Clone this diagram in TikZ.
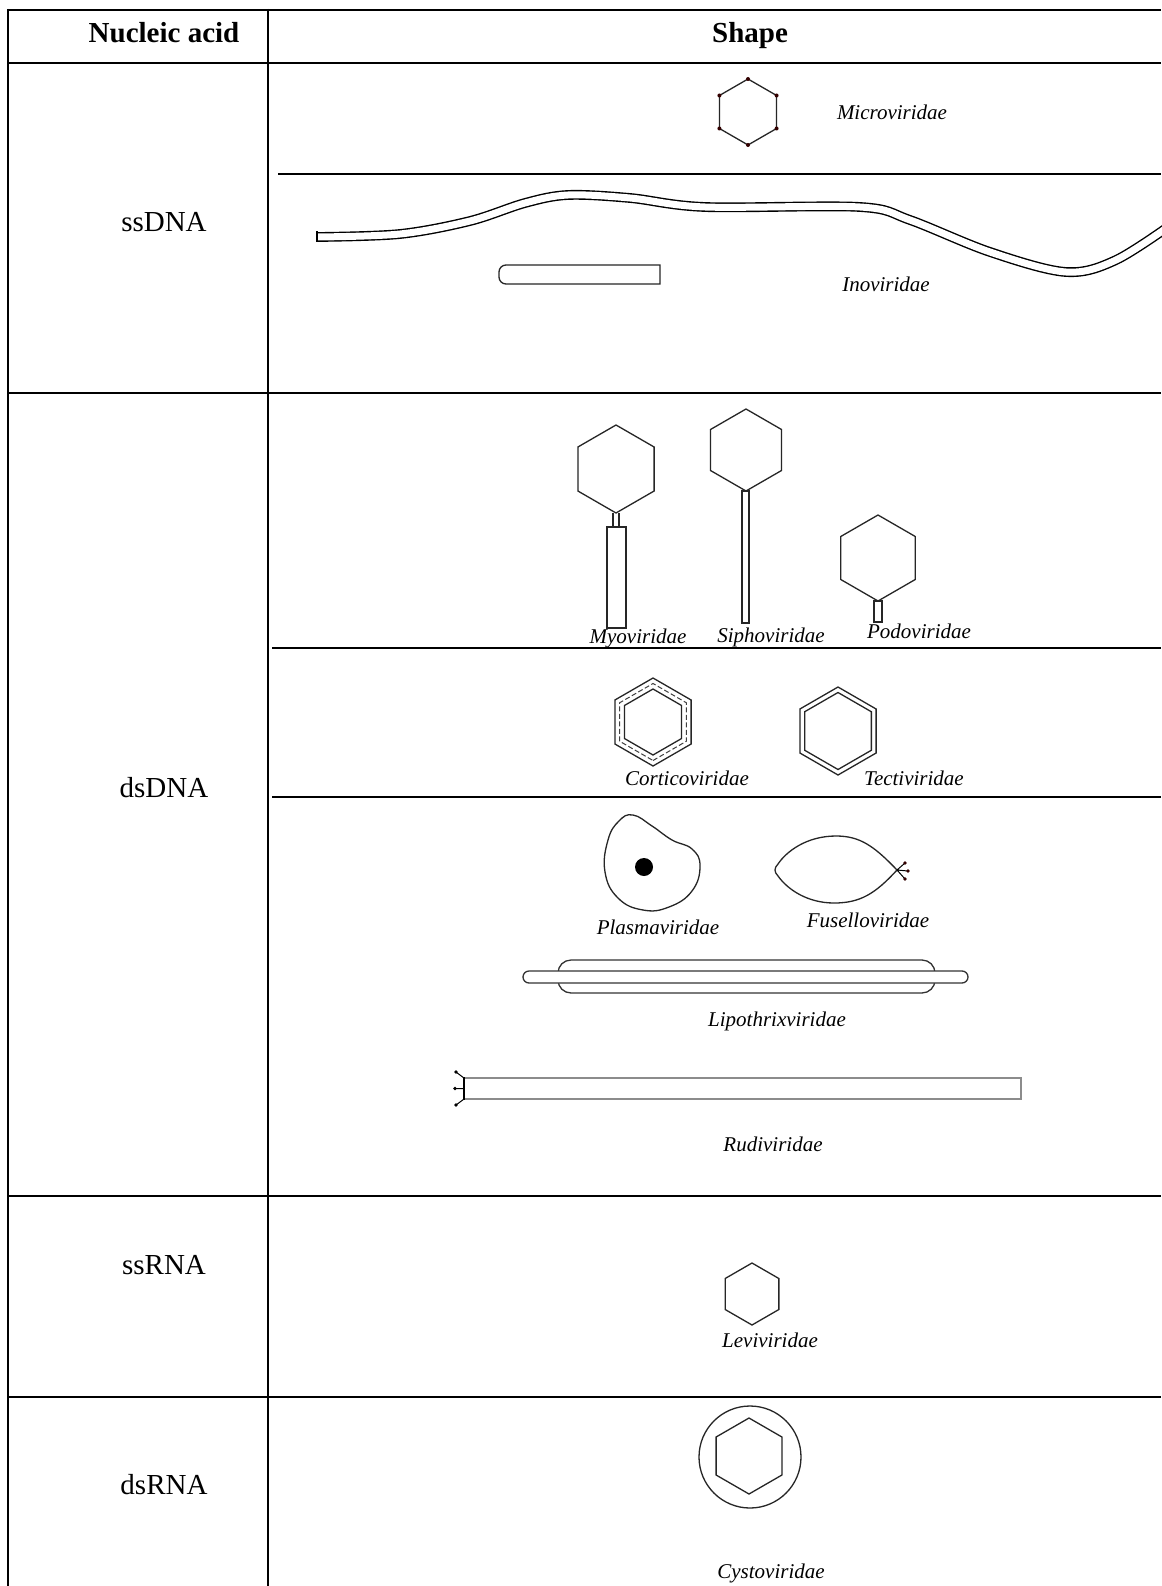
\documentclass[tikz,border=0pt]{standalone}
\usepackage{fontspec}
\setmainfont{Liberation Serif}
% pointy-topped hexagon: [style]{cx}{cy}{R}
\newcommand\hexat[4][]{%
  \begin{scope}[shift={(#2,#3)}]
    \draw[#1] (90:#4) -- (30:#4) -- (-30:#4) -- (-90:#4) -- (-150:#4) -- (150:#4) -- cycle;
  \end{scope}}
\begin{document}
\begin{tikzpicture}[x=1pt,y=-1pt,
  gridline/.style={line width=2pt,black},
  subrule/.style={line width=1.6pt,black},
  outline/.style={line width=1.3pt,draw=black!85,line join=miter},
  family/.style={font=\fontsize{21}{24}\selectfont\itshape,anchor=base,inner sep=0pt},
  acid/.style={font=\fontsize{29}{32}\selectfont,anchor=base,inner sep=0pt},
  headtext/.style={font=\fontsize{29}{32}\selectfont\bfseries,anchor=base,inner sep=0pt},
  tip/.style={fill=black!80!red,radius=2pt}]
\useasboundingbox (0,0) rectangle (1161,1586);
\fill[white] (0,0) rectangle (1161,1586);

% ---------- table frame ----------
\draw[gridline] (7,10) -- (1161,10);
\draw[gridline] (7,63) -- (1161,63);
\draw[gridline] (7,393) -- (1161,393);
\draw[gridline] (7,1196) -- (1161,1196);
\draw[gridline] (7,1397) -- (1161,1397);
\draw[gridline] (8,9) -- (8,1586);
\draw[gridline] (268,9) -- (268,1586);
% rules inside the shape column
\draw[subrule] (278,174) -- (1161,174);
\draw[subrule] (272,648) -- (1161,648);
\draw[line width=1.2pt] (272,797) -- (737,797);
\draw[gridline] (737,797) -- (1161,797);

% ---------- headings ----------
\node[headtext] (hAcid) at (164,43) {Nucleic acid};
\node[headtext] (hShape) at (750,43) {Shape};
\node[acid] (ssDNA) at (164,232) {ssDNA};
\node[acid] (dsDNA) at (164,797) {dsDNA};
\node[acid] (ssRNA) at (164,1274) {ssRNA};
\node[acid] (dsRNA) at (164,1494) {dsRNA};

% ---------- ssDNA ----------
% Microviridae: icosahedron with vertex knobs
\hexat[outline]{748}{112}{33}
\foreach \a in {90,30,-30,-90,-150,150}
  \fill[tip,shift={(748,112)}] (\a:33) circle[radius=2pt];
\node[family] (micro) at (892,120) {Microviridae};

% Inoviridae: long flexible filament
\draw[line width=1.4pt,double=white,double distance=7pt,line cap=butt]
  plot[smooth,tension=0.55] coordinates {(317,237) (400,234) (470,221) (525,203) (568,195)
    (630,198) (705,207) (860,207) (910,220) (990,252) (1066,272) (1116,260) (1175,222)};
\draw[line width=1.4pt] (317,231.5) -- (317,242.5);
% short rod
\draw[outline] (660,265) [rounded corners=7pt]-- (499,265) -- (499,284) [sharp corners]-- (660,284) -- cycle;
\node[family] (ino) at (886,291) {Inoviridae};

% ---------- dsDNA: tailed phages ----------
% Myoviridae
\hexat[outline]{616}{469}{44}
\draw[outline] (613,513) -- (613,527) (619,513) -- (619,527);
\draw[outline] (607,527) rectangle (626,628);
\node[family] (myo) at (638,643) {Myoviridae};
% Siphoviridae
\hexat[outline]{746}{450}{41}
\draw[outline] (742,491) rectangle (749,623);
\node[family] (sipho) at (771,642) {Siphoviridae};
% Podoviridae
\hexat[outline]{878}{558}{43}
\draw[outline] (874,601) rectangle (882,622);
\node[family] (podo) at (919,638) {Podoviridae};

% ---------- dsDNA: membrane-containing ----------
% Corticoviridae
\hexat[outline]{653}{722}{44}
\hexat[line width=1pt,draw=black!75,dash pattern=on 5pt off 2.5pt]{653}{722}{38.5}
\hexat[outline]{653}{722}{33}
\node[family] (cortico) at (687,785) {Corticoviridae};
% Tectiviridae
\hexat[outline]{838}{731}{44}
\hexat[outline]{838}{731}{38.5}
\node[family] (tecti) at (914,785) {Tectiviridae};

% ---------- dsDNA: archaeal viruses ----------
% Plasmaviridae: pleomorphic envelope with core
\draw[outline] plot[smooth cycle,tension=0.75] coordinates {(633,815) (652,826) (672,840)
  (692,849) (700,866) (692,891) (669,907) (643,910) (618,898) (605,872) (608,840) (619,821)};
\fill (644,867) circle[radius=9pt];
\node[family] (plasma) at (658,934) {Plasmaviridae};
% Fuselloviridae: lemon-shaped particle with tail fibres
\draw[outline] (897,870) .. controls (874,846) and (860,836) .. (836,836)
  .. controls (806,836) and (786,852) .. (778,864)
  .. controls (774,868) and (774,872) .. (778,876)
  .. controls (788,890) and (808,903) .. (834,903)
  .. controls (860,903) and (875,894) .. (897,870) -- cycle;
\draw[line width=1pt] (897,870) -- (905,863) (897,870) -- (908,871) (897,870) -- (905,879);
\fill[tip] (905,863) circle[radius=1.8pt] (908,871) circle[radius=1.8pt] (905,879) circle[radius=1.8pt];
\node[family] (fusello) at (868,927) {Fuselloviridae};
% Lipothrixviridae: enveloped filament
\draw[outline,draw=black!80] (558,960) [rounded corners=13pt] rectangle (935,993);
\draw[outline,draw=black!80,fill=white] (523,971) [rounded corners=6pt] rectangle (968,983);
\node[family] (lipo) at (777,1026) {Lipothrixviridae};
% Rudiviridae: stiff rod with terminal fibres
\draw[line width=2pt,draw=black!45] (464,1078) rectangle (1021,1099);
\draw[line width=1.5pt] (464,1077) -- (464,1100);
\draw[line width=1pt] (464,1078) -- (456,1072) (464,1088.5) -- (455,1088.5) (464,1099) -- (456,1105);
\fill[black] (456,1072) circle[radius=1.8pt] (455,1088.5) circle[radius=1.8pt] (456,1105) circle[radius=1.8pt];
\node[family] (rudi) at (773,1151) {Rudiviridae};

% ---------- ssRNA ----------
\hexat[outline]{752}{1294}{31}
\node[family] (levi) at (770,1347) {Leviviridae};

% ---------- dsRNA ----------
\draw[outline] (750,1457) circle[radius=51pt];
\hexat[outline]{749}{1456}{38}
\node[family] (cysto) at (771,1578) {Cystoviridae};
\end{tikzpicture}
\end{document}
